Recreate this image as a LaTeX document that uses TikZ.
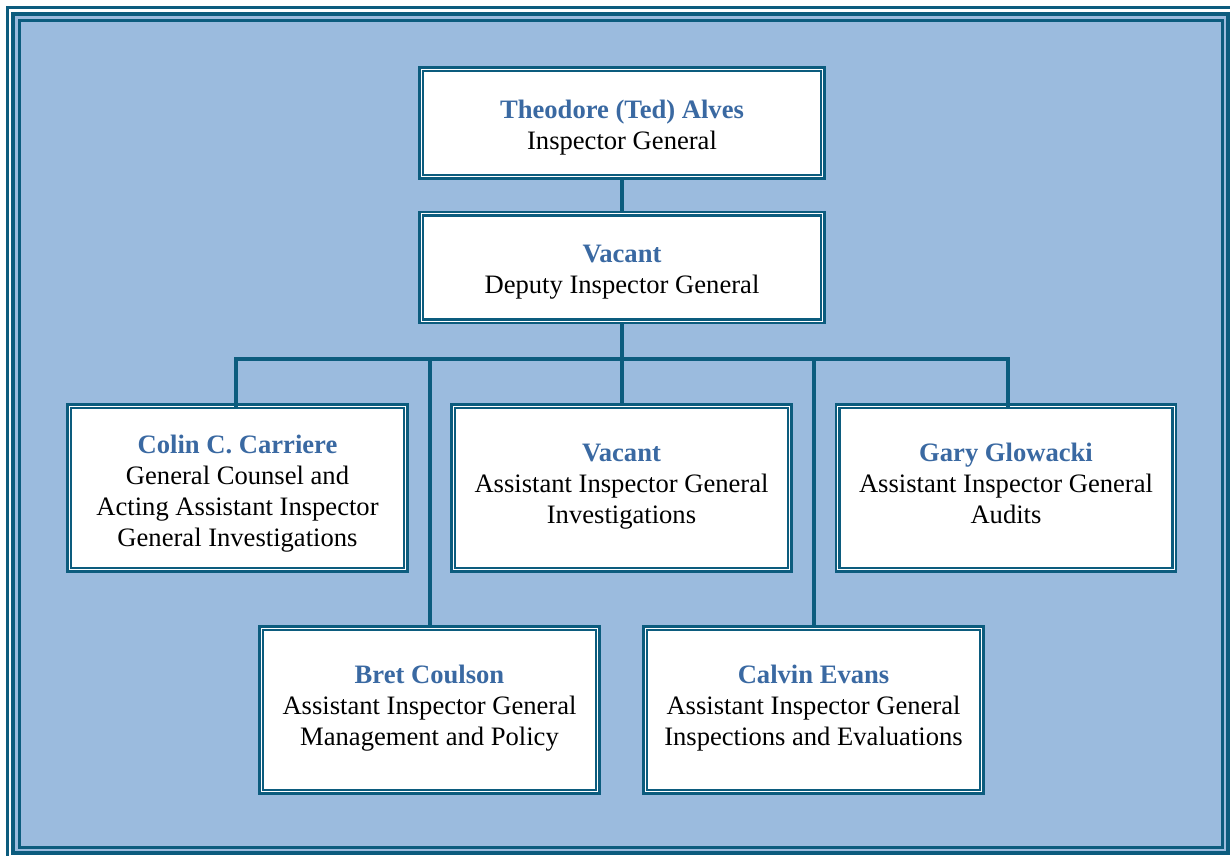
\documentclass[tikz,border=0pt]{standalone}
\usepackage{fontspec}
\setmainfont{Liberation Serif}
\definecolor{dk}{RGB}{12,92,126}
\definecolor{lb}{RGB}{155,187,222}
\definecolor{nm}{RGB}{58,105,162}
\newcommand{\botstrut}[1][8]{\rule[-#1pt]{0pt}{#1pt}}
\tikzset{
  box/.style={draw=dk, double=white, line width=2.4pt, double distance=1.4pt, fill=white,
    inner sep=0pt, align=center, font=\fontsize{26.6}{31}\selectfont},
  big/.style={box, minimum width=401.5pt, minimum height=107.5pt},
  mid/.style={box, minimum width=336.5pt, minimum height=163.5pt},
  conn/.style={draw=dk, line width=4pt},
}
\newcommand{\nme}[2][27]{\rule{0pt}{#1pt}\textcolor{nm}{\textbf{#2}}}
\begin{document}
\begin{tikzpicture}[x=1pt,y=-1pt]
\useasboundingbox (0,0) rectangle (1230,855);
\fill[white] (0,0) rectangle (1230,855);
\fill[lb] (13,13.5) rectangle (1228,852.5);
\draw[dk, line width=4pt] (13,13.5) rectangle (1228,852.5);
\draw[dk, line width=3pt] (19.5,20.5) rectangle (1222.5,847.5);
\draw[dk, line width=3pt] (7.5,7.5) rectangle (1233.5,857.5);

\node[big] (ig) at (622,123) {\nme[29]{Theodore (Ted) Alves}\\Inspector General\botstrut};
\node[big] (dig) at (622,267.5) {\nme[29]{Vacant}\\Deputy Inspector General\botstrut};
\node[mid] (colin) at (237.5,488) {\nme[32]{Colin C. Carriere}\\General Counsel and\\Acting Assistant Inspector\\General Investigations\botstrut};
\node[mid] (vac) at (621.5,488) {\nme{Vacant}\\Assistant Inspector General\\Investigations\botstrut[18]};
\node[mid] (gary) at (1006,488) {\nme{Gary Glowacki}\\Assistant Inspector General\\Audits\botstrut[18]};
\node[mid] (bret) at (429.5,710) {\nme{Bret Coulson}\\Assistant Inspector General\\Management and Policy\botstrut[19]};
\node[mid] (calvin) at (813.5,710) {\nme{Calvin Evans}\\Assistant Inspector General\\Inspections and Evaluations\botstrut[19]};

\coordinate (bL) at (236,359);
\coordinate (bR) at (1008,359);
\coordinate (bM) at (622,359);
\draw[conn] (ig.south) -- (dig.north);
\draw[conn] (dig.south) -- (bM);
\draw[conn, line cap=rect] (colin.north -| bL) -- (bL) -- (bR) -- (gary.north -| bR);
\draw[conn] (bM) -- (vac.north -| bM);
\draw[conn] (bret.north) -- (bret.north |- bM);
\draw[conn] (calvin.north) -- (calvin.north |- bM);
\end{tikzpicture}
\end{document}
